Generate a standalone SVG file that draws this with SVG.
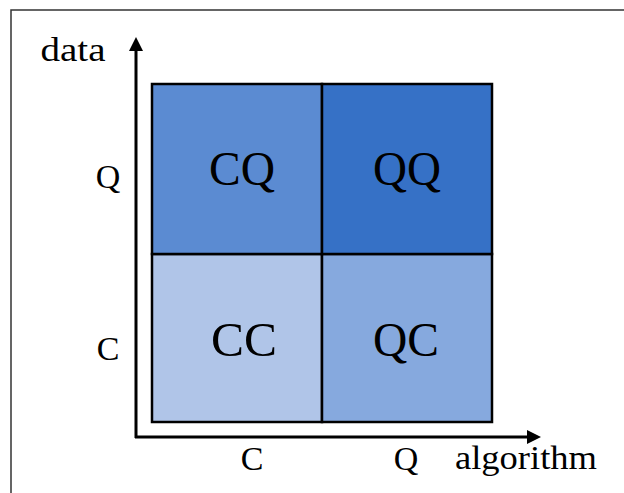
<svg xmlns="http://www.w3.org/2000/svg" width="624" height="493" viewBox="0 0 624 493">
<style>
.t{font-family:"Liberation Serif","DejaVu Serif",serif;fill:#000}
.cell{stroke:#000;stroke-width:2.5}
.big{font-size:48px;text-anchor:middle}
.lab{font-size:34px;text-anchor:middle}
.ax{stroke:#000;stroke-width:3;fill:none}
</style>
<defs>
<marker id="ah" viewBox="0 0 14 14" refX="3" refY="7" markerWidth="14" markerHeight="14" markerUnits="userSpaceOnUse" orient="auto">
<path d="M0,0 L14,7 L0,14 Z" fill="#000"/>
</marker>
</defs>
<rect width="624" height="493" fill="#fff"/>
<path d="M11,493 V10 H624" fill="none" stroke="#333" stroke-width="1.5"/>
<g id="cell-CC"><rect class="cell" x="152" y="254" width="170" height="168" fill="#b0c5e8"/><text class="t big" x="244" y="356" textLength="66" lengthAdjust="spacingAndGlyphs">CC</text></g>
<g id="cell-QC"><rect class="cell" x="322" y="254" width="170" height="168" fill="#86a9de"/><text class="t big" x="406" y="356" textLength="66" lengthAdjust="spacingAndGlyphs">QC</text></g>
<g id="cell-CQ"><rect class="cell" x="152" y="84" width="170" height="170" fill="#5b8bd2"/><text class="t big" x="242" y="185" textLength="66" lengthAdjust="spacingAndGlyphs">CQ</text></g>
<g id="cell-QQ"><rect class="cell" x="322" y="84" width="170" height="170" fill="#3671c6"/><text class="t big" x="407" y="185" textLength="68" lengthAdjust="spacingAndGlyphs">QQ</text></g>
<g id="connectors">
<line class="ax" x1="136" y1="438" x2="136" y2="48" marker-end="url(#ah)"/>
<line class="ax" x1="135" y1="437" x2="530" y2="437" marker-end="url(#ah)"/>
</g>
<g id="labels">
<text class="t lab" x="73" y="61" textLength="65" lengthAdjust="spacingAndGlyphs">data</text>
<text class="t lab" x="108" y="188">Q</text>
<text class="t lab" x="108" y="360">C</text>
<text class="t lab" x="252" y="470">C</text>
<text class="t lab" x="406" y="470">Q</text>
<text class="t lab" x="526" y="469" textLength="142" lengthAdjust="spacingAndGlyphs">algorithm</text>
</g>
</svg>
